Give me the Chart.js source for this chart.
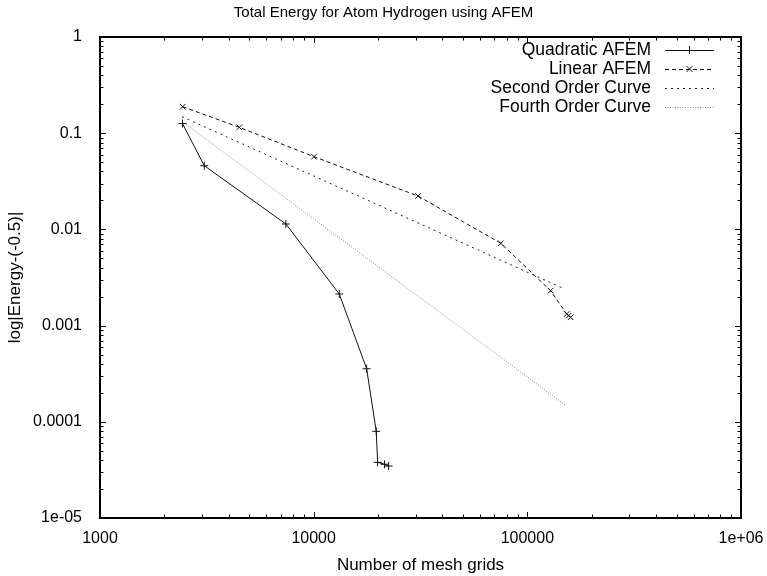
<!DOCTYPE html>
<html><head><meta charset="utf-8">
<script src="https://cdn.jsdelivr.net/npm/chart.js@4.4.1/dist/chart.umd.min.js"></script>
<style>html,body{margin:0;padding:0;background:#fff}#wrap{width:767px;height:576px}</style>
</head><body><div id="wrap"><canvas id="c" width="767" height="576"></canvas></div>
<script>
const titleText = 'Total Energy for Atom Hydrogen using AFEM';
const xTitle = 'Number of mesh grids';
const yTitle = 'log|Energy-(-0.5)|';
const seriesNames = ['Quadratic AFEM', 'Linear AFEM', 'Second Order Curve', 'Fourth Order Curve'];
const quadN = [2432, 3077, 7413, 13180, 17700, 19630, 19920, 21470, 22430];
const quadErr = [0.126, 0.0459, 0.01138, 0.00213, 0.000356, 0.0000796, 0.0000379, 0.0000362, 0.0000347];
const linN = [2438, 4488, 10030, 30770, 75150, 128500, 152800, 156000, 159400];
const linErr = [0.1886, 0.1151, 0.0570, 0.02225, 0.00717, 0.002306, 0.00132, 0.00127, 0.00122];
const secondN = [2421, 147300];
const secondErr = [0.1484, 0.00244];
const fourthN = [2430, 150000];
const fourthErr = [0.1317, 0.000150];
const xTickVals = [1000, 10000, 100000, 1000000];
const xTickLabels = ['1000', '10000', '100000', '1e+06'];
const yTickVals = [1, 0.1, 0.01, 0.001, 0.0001, 0.00001];
const yTickLabels = ['1', '0.1', '0.01', '0.001', '0.0001', '1e-05'];

const FONT = '"Liberation Sans", Arial, Helvetica, sans-serif';
const pts = (xs, ys) => xs.map((x, i) => ({x: x, y: ys[i]}));

const frame = {
  id: 'frame',
  afterDatasetsDraw(chart) {
    const ctx = chart.ctx, a = chart.chartArea;
    const xs = chart.scales.x, ys = chart.scales.y;
    ctx.save();
    ctx.strokeStyle = '#000';
    ctx.lineWidth = 1;
    for (let d = 1000; d < 1000000; d *= 10) {
      for (let m = 1; m <= 10; m++) {
        const v = d * m;
        const px = Math.round(xs.getPixelForValue(v)) + 0.5;
        const len = (m === 1 || m === 10) ? 6 : 3.5;
        ctx.beginPath();
        ctx.moveTo(px, a.bottom); ctx.lineTo(px, a.bottom - len);
        ctx.moveTo(px, a.top); ctx.lineTo(px, a.top + len);
        ctx.stroke();
      }
    }
    for (let d = 0.00001; d < 0.99; d *= 10) {
      for (let m = 1; m <= 10; m++) {
        const v = d * m;
        const py = Math.round(ys.getPixelForValue(v)) + 0.5;
        const len = (m === 1 || m === 10) ? 6 : 3.5;
        ctx.beginPath();
        ctx.moveTo(a.left, py); ctx.lineTo(a.left + len, py);
        ctx.moveTo(a.right, py); ctx.lineTo(a.right - len, py);
        ctx.stroke();
      }
    }
    ctx.lineWidth = 2;
    ctx.strokeRect(a.left, a.top, a.right - a.left, a.bottom - a.top);
    ctx.fillStyle = '#000';
    ctx.font = '15px ' + FONT;
    ctx.textAlign = 'center';
    ctx.textBaseline = 'middle';
    ctx.fillText(titleText, chart.width / 2, 13);
    ctx.font = '17.5px ' + FONT;
    ctx.textAlign = 'right';
    chart.data.datasets.forEach((ds, i) => {
      const y = 50 + i * 19;
      ctx.fillStyle = '#000';
      ctx.fillText(ds.label, 651, y);
      ctx.strokeStyle = ds.borderColor;
      ctx.lineWidth = ds.borderWidth;
      ctx.setLineDash(ds.borderDash || []);
      ctx.beginPath();
      ctx.moveTo(665, y + 0.5); ctx.lineTo(714, y + 0.5);
      ctx.stroke();
      ctx.setLineDash([]);
      if (ds.pointRadius > 0) {
        const cx = 689.5, r = ds.pointRadius;
        ctx.lineWidth = 1;
        ctx.beginPath();
        if (ds.pointStyle === 'cross') {
          ctx.moveTo(cx - r, y + 0.5); ctx.lineTo(cx + r, y + 0.5);
          ctx.moveTo(cx, y - r); ctx.lineTo(cx, y + r);
        } else {
          const q = r * 0.75;
          ctx.moveTo(cx - q, y - q); ctx.lineTo(cx + q, y + q);
          ctx.moveTo(cx - q, y + q); ctx.lineTo(cx + q, y - q);
        }
        ctx.stroke();
      }
    });
    ctx.restore();
  }
};

new Chart(document.getElementById('c'), {
  type: 'line',
  data: {
    datasets: [
      {label: seriesNames[0], data: pts(quadN, quadErr), borderColor: '#111', backgroundColor: '#111',
       borderWidth: 1, pointStyle: 'cross', pointRadius: 4, pointBorderWidth: 1, pointBorderColor: '#111', fill: false},
      {label: seriesNames[1], data: pts(linN, linErr), borderColor: '#111', backgroundColor: '#111',
       borderWidth: 1, borderDash: [4, 3], pointStyle: 'crossRot', pointRadius: 4, pointBorderWidth: 1, pointBorderColor: '#111', fill: false},
      {label: seriesNames[2], data: pts(secondN, secondErr), borderColor: '#222', borderWidth: 1,
       borderDash: [2, 4], pointRadius: 0, fill: false},
      {label: seriesNames[3], data: pts(fourthN, fourthErr), borderColor: '#888', borderWidth: 1,
       borderDash: [1, 1.5], pointRadius: 0, fill: false}
    ]
  },
  options: {
    responsive: false,
    animation: false,
    devicePixelRatio: 1,
    layout: {padding: {left: 0, right: 26, top: 37, bottom: 0}},
    plugins: {legend: {display: false}, title: {display: false}, tooltip: {enabled: false}},
    elements: {line: {tension: 0}},
    scales: {
      x: {
        type: 'logarithmic', min: 1000, max: 1000000,
        grid: {display: false}, border: {display: false},
        afterBuildTicks: s => { s.ticks = xTickVals.map(v => ({value: v})); },
        afterFit: s => { s.height = 58; },
        ticks: {color: '#000', font: {family: FONT, size: 16}, padding: 3, maxRotation: 0, autoSkip: false,
          callback: (v) => { const i = xTickVals.indexOf(v); return i >= 0 ? xTickLabels[i] : ''; }},
        title: {display: true, text: xTitle, color: '#000', font: {family: FONT, size: 17}, padding: {top: 4, bottom: 0}}
      },
      y: {
        type: 'logarithmic', min: 0.00001, max: 1,
        grid: {display: false}, border: {display: false},
        afterBuildTicks: s => { s.ticks = yTickVals.map(v => ({value: v})); },
        afterFit: s => { s.width = 100; },
        ticks: {color: '#000', font: {family: FONT, size: 16}, padding: 10, autoSkip: false,
          callback: (v) => { const i = yTickVals.findIndex(t => Math.abs(t - v) / t < 1e-6); return i >= 0 ? yTickLabels[i] : ''; }},
        title: {display: true, text: yTitle, color: '#000', font: {family: FONT, size: 17}, padding: {top: 5, bottom: 0}}
      }
    }
  },
  plugins: [frame]
});
</script></body></html>
